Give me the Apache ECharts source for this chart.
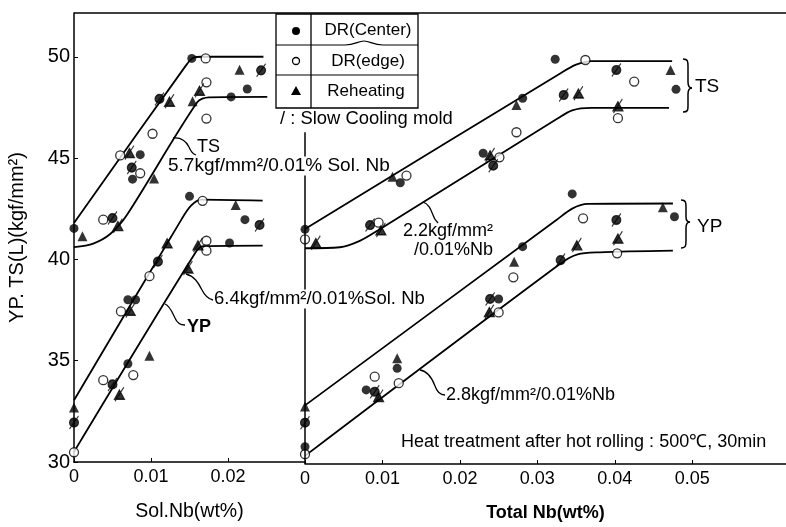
<!DOCTYPE html>
<html>
<head>
<meta charset="utf-8">
<script src="https://cdn.jsdelivr.net/npm/echarts@6/dist/echarts.min.js"></script>
<style>
  html, body { margin: 0; padding: 0; background: #fff; }
  #chart { width: 786px; height: 527px; }
</style>
</head>
<body>
<div id="chart"></div>
<script>
// ---- data: [Nb wt%, kgf/mm2] ----
// left panel: Sol.Nb
const solCenter = [[0, 41.53], [0.0086, 45.17], [0.0076, 43.96], [0.0153, 49.92], [0.0204, 48.02], [0.0225, 48.41],
  [0.0070, 34.85], [0.0070, 38.01], [0.0080, 38.01], [0.0150, 43.11], [0.0222, 41.96], [0.0202, 40.81]];
const solEdge = [[0.0038, 41.96], [0.0060, 45.13], [0.0086, 44.25], [0.0102, 46.2], [0.0172, 48.74], [0.0172, 46.95], [0.0171, 49.92],
  [0, 30.48], [0.0038, 34.04], [0.0077, 34.29], [0.0061, 37.43], [0.0098, 39.17], [0.0167, 42.89], [0.0172, 40.92], [0.0172, 40.43]];
const solReheat = [[0.0011, 41.14], [0.0104, 43.99], [0.0154, 47.8], [0.0215, 49.36],
  [0, 32.69], [0.0098, 35.24], [0.0210, 42.69]];
const solCenterSlow = [[0.0050, 42.04], [0.0075, 44.53], [0.0111, 47.92], [0.0243, 49.33],
  [0, 31.95], [0.0050, 33.83], [0.0109, 39.89], [0.0241, 41.7]];
const solReheatSlow = [[0.0057, 41.66], [0.0072, 45.27], [0.0124, 47.8], [0.0163, 48.34],
  [0.0059, 33.34], [0.0073, 37.48], [0.0121, 40.81], [0.0148, 39.57], [0.0161, 40.71]];

// right panel: Total Nb
const totCenter = [[0, 41.53], [0.0123, 43.82], [0.0230, 45.27], [0.0281, 47.97], [0.0323, 49.89], [0.0479, 48.41],
  [0, 30.85], [0.0079, 33.64], [0.0119, 34.7], [0.0250, 38.11], [0.0281, 40.68], [0.0345, 43.27], [0.0477, 42.15]];
const totEdge = [[0, 41.04], [0.0095, 41.86], [0.0131, 44.17], [0.0251, 45.07], [0.0273, 46.3], [0.0362, 49.85], [0.0425, 48.79], [0.0404, 46.99],
  [0, 30.48], [0.0090, 34.29], [0.0121, 33.97], [0.0250, 37.45], [0.0269, 39.17], [0.0359, 42.07], [0.0403, 40.35]];
const totReheat = [[0.0113, 44.12], [0.0273, 47.64], [0.0472, 49.36],
  [0, 32.82], [0.0119, 35.19], [0.0270, 39.94], [0.0462, 42.61]];
const totCenterSlow = [[0.0084, 41.74], [0.0243, 44.66], [0.0334, 48.13], [0.0402, 49.36],
  [0, 32.03], [0.0090, 33.55], [0.0239, 38.11], [0.0330, 40.02], [0.0402, 41.99]];
const totReheatSlow = [[0.0014, 40.87], [0.0098, 41.5], [0.0239, 45.18], [0.0353, 48.22], [0.0404, 47.59],
  [0.0095, 33.31], [0.0238, 37.48], [0.0351, 40.76], [0.0404, 41.09]];

// fitted band lines
const solTsHigh = [[0, 41.8], [0.0145, 49.55], [0.0155, 49.95], [0.0166, 50.0], [0.0246, 50.0]];
const solTsLow = [[0, 40.6], [0.0025, 40.78], [0.0047, 41.25], [0.0068, 42.15], [0.0160, 47.75], [0.0175, 48.0], [0.0251, 48.02]];
const solYpHigh = [[0, 33.05], [0.0140, 42.0], [0.0152, 42.65], [0.0165, 42.95], [0.0245, 42.9]];
const solYpLow = [[0, 30.5], [0.0158, 40.35], [0.0168, 40.65], [0.0245, 40.68]];
const totTsHigh = [[0, 41.55], [0.0330, 49.2], [0.0350, 49.62], [0.0370, 49.8], [0.0474, 49.8]];
const totTsLow = [[0, 40.6], [0.0045, 40.65], [0.0070, 40.95], [0.0095, 41.5], [0.0325, 46.95], [0.0345, 47.38], [0.0370, 47.5], [0.0470, 47.5]];
const totYpHigh = [[0, 32.88], [0.0325, 42.0], [0.0345, 42.55], [0.0365, 42.78], [0.0475, 42.8]];
const totYpLow = [[0, 30.4], [0.0330, 39.85], [0.0352, 40.3], [0.0380, 40.4], [0.0475, 40.48]];

// tick labels
const solTicks = [0, 0.01, 0.02];
const totTicks = [0, 0.01, 0.02, 0.03, 0.04, 0.05];
const yTicks = [30, 35, 40, 45, 50];

// right panel y axis line stops under the legend
const totAxisSpan = [30, 46.3];

const INK = "#000";
const FONT = "'Liberation Sans', Arial, sans-serif";
const slashCircle = "path://M3,7A4,4 0 1 1 11,7A4,4 0 1 1 3,7Z M3,13L11,1";
const slashTriangle = "path://M7,2.5L11.5,11L2.5,11Z M3,13L11,0";

const chart = echarts.init(document.getElementById("chart"));

function fmtNb(v) {
  return v === 0 ? "0" : v.toFixed(2);
}

function xAxisCfg(grid, max, ticks, name, bold, nameSize) {
  return {
    type: "value", gridIndex: grid, min: 0, max: max, interval: 0.01,
    axisLine: { lineStyle: { color: INK, width: 1.5 } },
    axisTick: { inside: true, length: 4, lineStyle: { color: INK }, customValues: ticks },
    axisLabel: { color: INK, fontSize: 18, fontFamily: FONT, margin: 6, customValues: ticks, formatter: fmtNb },
    splitLine: { show: false },
    name: name, nameLocation: "middle", nameGap: 40,
    nameTextStyle: { color: INK, fontSize: nameSize, fontFamily: FONT, fontWeight: bold ? "bold" : "normal" },
  };
}

function lineSeries(axis, data) {
  return {
    type: "line", xAxisIndex: axis, yAxisIndex: axis, data: data,
    showSymbol: false, smooth: 0.3, silent: true,
    lineStyle: { color: INK, width: 1.8 }, z: 2,
  };
}

function dots(axis, data, kind) {
  const s = { type: "scatter", xAxisIndex: axis, yAxisIndex: axis, data: data, silent: true, z: 3 };
  if (kind === "center") {
    s.symbol = "circle"; s.symbolSize = 9; s.itemStyle = { color: INK };
  } else if (kind === "edge") {
    s.symbol = "circle"; s.symbolSize = 9; s.itemStyle = { color: "#fff", borderColor: INK, borderWidth: 1.3 };
  } else if (kind === "reheat") {
    s.symbol = "triangle"; s.symbolSize = 10; s.itemStyle = { color: INK };
  } else if (kind === "centerSlow") {
    s.symbol = slashCircle; s.symbolSize = [9, 13]; s.itemStyle = { color: INK, borderColor: INK, borderWidth: 1.2 };
  } else {
    s.symbol = slashTriangle; s.symbolSize = [10, 14]; s.itemStyle = { color: INK, borderColor: INK, borderWidth: 1.2 };
  }
  return s;
}

function txt(x, y, text, size, opts) {
  return {
    type: "text", z: 10, silent: true,
    style: Object.assign({
      x: x, y: y, text: text, fill: INK,
      font: (opts && opts.weight ? opts.weight + " " : "") + size + "px " + FONT,
      align: "left", verticalAlign: "middle", textAlign: "left", textVerticalAlign: "middle",
    }, opts && opts.style),
  };
}

// small "M x,y L x,y C ..." strings turned into line / bezierCurve graphic elements
function strokes(d, width) {
  const nums = d.match(/[MLC]|-?[\d.]+/g);
  const out = [];
  let i = 0, cx = 0, cy = 0, cmd = "M";
  const style = { stroke: INK, lineWidth: width || 1.3, fill: null };
  while (i < nums.length) {
    if (/[MLC]/.test(nums[i])) { cmd = nums[i]; i++; }
    if (cmd === "M") {
      cx = +nums[i]; cy = +nums[i + 1]; i += 2;
    } else if (cmd === "L") {
      const x = +nums[i], y = +nums[i + 1]; i += 2;
      out.push({ type: "line", z: 10, silent: true, shape: { x1: cx, y1: cy, x2: x, y2: y }, style: style });
      cx = x; cy = y;
    } else {
      const a = nums.slice(i, i + 6).map(Number); i += 6;
      out.push({ type: "bezierCurve", z: 10, silent: true,
        shape: { x1: cx, y1: cy, cpx1: a[0], cpy1: a[1], cpx2: a[2], cpy2: a[3], x2: a[4], y2: a[5] }, style: style });
      cx = a[4]; cy = a[5];
    }
  }
  return out;
}

const graphics = [
  { type: "line", z: 9, silent: true, shape: { x1: 74, y1: 13, x2: 786, y2: 13 }, style: { stroke: INK, lineWidth: 1.5 } },
  // legend table
  { type: "rect", z: 10, silent: true, shape: { x: 276, y: 14, width: 142, height: 94 }, style: { fill: "#fff", stroke: INK, lineWidth: 1.3 } },
  { type: "line", z: 10, silent: true, shape: { x1: 311, y1: 14, x2: 311, y2: 108 }, style: { stroke: INK, lineWidth: 1.3 } },
  ...strokes("M276,45 L345,45 C355,45 358,41 364,41 C370,41 373,45 383,45 L418,45", 1.2),
  { type: "line", z: 10, silent: true, shape: { x1: 276, y1: 75, x2: 418, y2: 75 }, style: { stroke: INK, lineWidth: 1.2 } },
  { type: "circle", z: 11, silent: true, shape: { cx: 296, cy: 31, r: 4 }, style: { fill: INK } },
  { type: "circle", z: 11, silent: true, shape: { cx: 296, cy: 61, r: 3.5 }, style: { fill: "#fff", stroke: INK, lineWidth: 1.3 } },
  { type: "polygon", z: 11, silent: true, shape: { points: [[296, 86], [301, 95], [291, 95]] }, style: { fill: INK } },
  txt(368, 30, "DR(Center)", 17, { style: { align: "center", textAlign: "center" } }),
  txt(368, 61, "DR(edge)", 17, { style: { align: "center", textAlign: "center" } }),
  txt(366, 91, "Reheating", 17, { style: { align: "center", textAlign: "center" } }),
  txt(280, 119, "/ : Slow Cooling mold", 18.4),
  // left panel notes
  ...strokes("M173,138 C181,137 186,141 189,147 C191,152 193,154 196,155"),
  txt(197, 147, "TS", 18),
  txt(168, 166, "5.7kgf/mm²/0.01% Sol. Nb", 19, { style: { backgroundColor: "#fff" } }),
  ...strokes("M186,274 C194,276 198,282 202,290 C205,296 208,299 213,300"),
  txt(214, 299, "6.4kgf/mm²/0.01%Sol. Nb", 18.5, { style: { backgroundColor: "#fff" } }),
  ...strokes("M165,304 C170,306 172,312 175,318 C177,323 180,325 185,325"),
  txt(187, 327, "YP", 18, { weight: "bold" }),
  // right panel notes
  ...strokes("M423,202 C429,204 431,210 433,215 C434,219 436,221 438,223"),
  txt(493, 231, "2.2kgf/mm²", 18, { style: { align: "right", textAlign: "right" } }),
  txt(493, 250, "/0.01%Nb", 18, { style: { align: "right", textAlign: "right" } }),
  ...strokes("M420,370 C428,371 432,378 435,386 C437,392 440,395 445,395"),
  txt(446, 395, "2.8kgf/mm²/0.01%Nb", 18),
  txt(401, 442, "Heat treatment after hot rolling : 500℃, 30min", 18),
  ...strokes("M683,59 C688,59 688,62 688,66 L688,82 C688,86 689,88 692,88 C689,88 688,90 688,94 L688,106 C688,110 688,112 683,112", 1.5),
  txt(695, 87, "TS", 19),
  ...strokes("M681,200 C686,200 686,203 686,207 L686,217 C686,220 687,222 690,222 C687,222 686,224 686,228 L686,241 C686,245 686,248 681,248", 1.5),
  txt(697, 227, "YP", 19),
];

const option = {
  backgroundColor: "#fff",
  animation: false,
  textStyle: { fontFamily: FONT },
  grid: [
    { left: 74, top: 13, width: 231, bottom: 63 },
    { left: 305, top: 13, right: 0, bottom: 63 },
  ],
  xAxis: [
    xAxisCfg(0, 0.03, solTicks, "Sol.Nb(wt%)", false, 19.5),
    xAxisCfg(1, 0.0621, totTicks, "Total Nb(wt%)", true, 18),
  ],
  yAxis: [
    {
      type: "value", gridIndex: 0, min: 30, max: 52.16, interval: 5,
      axisLine: { show: true, lineStyle: { color: INK, width: 1.5 } },
      axisTick: { inside: true, length: 4, lineStyle: { color: INK }, customValues: yTicks },
      axisLabel: { color: INK, fontSize: 20, fontFamily: FONT, margin: 4, customValues: yTicks },
      splitLine: { show: false },
      name: "YP. TS(L)(kgf/mm²)", nameLocation: "middle", nameGap: 47,
      nameTextStyle: { color: INK, fontSize: 20, fontFamily: FONT },
    },
    { type: "value", gridIndex: 1, min: 30, max: 52.16, show: false },
  ],
  series: [
    lineSeries(0, solTsHigh), lineSeries(0, solTsLow), lineSeries(0, solYpHigh), lineSeries(0, solYpLow),
    lineSeries(1, totTsHigh), lineSeries(1, totTsLow), lineSeries(1, totYpHigh), lineSeries(1, totYpLow),
    Object.assign(lineSeries(1, []), {
      markLine: {
        silent: true, symbol: "none", label: { show: false },
        lineStyle: { color: INK, width: 1.5, type: "solid" },
        data: [[{ coord: [0, totAxisSpan[0]] }, { coord: [0, totAxisSpan[1]] }]],
      },
    }),
    dots(0, solCenter, "center"), dots(0, solEdge, "edge"), dots(0, solReheat, "reheat"),
    dots(0, solCenterSlow, "centerSlow"), dots(0, solReheatSlow, "reheatSlow"),
    dots(1, totCenter, "center"), dots(1, totEdge, "edge"), dots(1, totReheat, "reheat"),
    dots(1, totCenterSlow, "centerSlow"), dots(1, totReheatSlow, "reheatSlow"),
  ],
  graphic: graphics,
};

chart.setOption(option);
</script>
</body>
</html>
